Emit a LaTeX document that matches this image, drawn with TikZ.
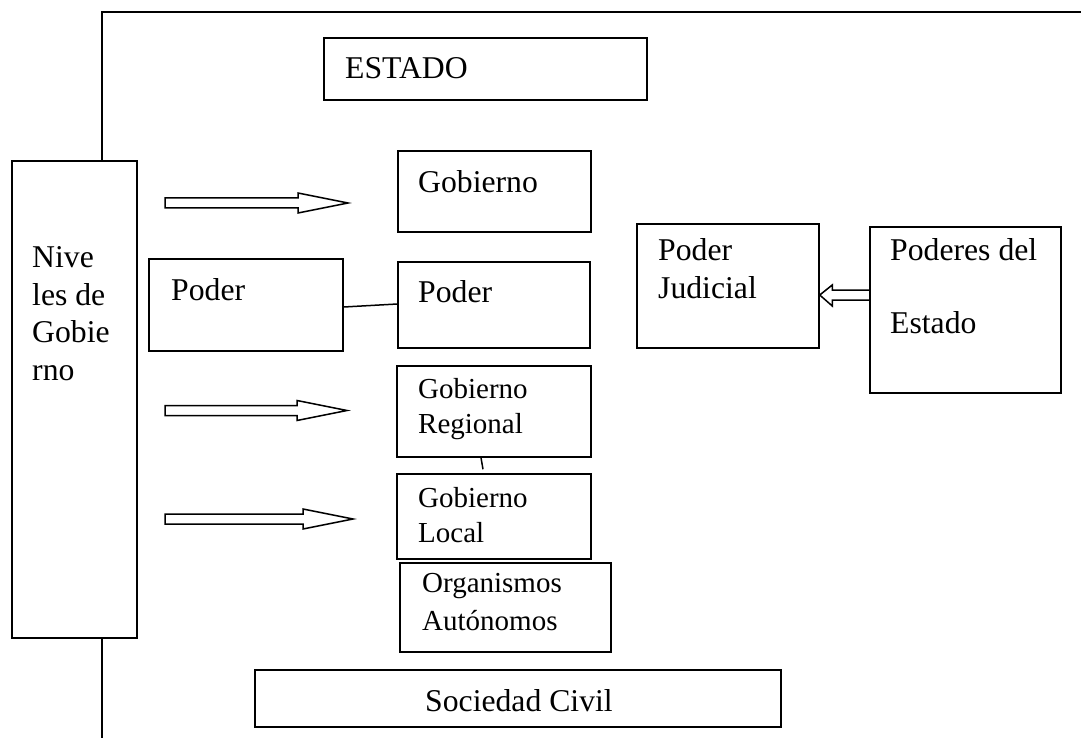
\documentclass[tikz,border=0pt]{standalone}
\usepackage{fontspec}
\setmainfont{Liberation Serif}
\tikzset{
	box/.style={draw, line width=1.5pt, inner sep=0pt},
	lbl/.style={anchor=north west, inner sep=0pt, align=left, font=\fontsize{31.7}{37.5}\selectfont, execute at begin node=\strut},
	lblsmall/.style={lbl, font=\fontsize{29}{35}\selectfont},
	pics/hollow/.style={code={\draw[line width=1.5pt] (0,-5) -- (#1,-5) -- (#1,-10) -- ({#1+50},0) -- (#1,10) -- (#1,5) -- (0,5) -- cycle;}},
	pics/hollow/.default=133
}
\begin{document}
\begin{tikzpicture}[x=1pt, y=-1pt]
	\useasboundingbox (0,0) rectangle (1081,738);
	% boxes
	\node[box, minimum width=323pt, minimum height=62pt](estado) at (485.5,69) {};
	\node[box, minimum width=125pt, minimum height=477pt](niv) at (74.5,399.5) {};
	\node[box, minimum width=193pt, minimum height=81pt](gob) at (494.5,191.5) {};
	\node[box, minimum width=194pt, minimum height=92pt](poderA) at (246,305) {};
	\node[box, minimum width=192pt, minimum height=86pt](poderB) at (494,305) {};
	\node[box, minimum width=194pt, minimum height=91pt](reg) at (494,411.5) {};
	\node[box, minimum width=194pt, minimum height=85pt](loc) at (494,516.5) {};
	\node[box, minimum width=211pt, minimum height=89pt](org) at (505.5,607.5) {};
	\node[box, minimum width=526pt, minimum height=57pt](soc) at (518,698.5) {};
	\node[box, minimum width=182pt, minimum height=124pt](pj) at (728,286) {};
	\node[box, minimum width=191pt, minimum height=166pt](pde) at (965.5,310) {};
	% texts
	\node[lbl](tEstado) at (345,51.75) {ESTADO};
	\node[lbl](tNiv) at (32,246.75) {Nive\\les de\\Gobie\\rno};
	\node[lbl](tGob) at (418,165.75) {Gobierno};
	\node[lbl](tPoderA) at (171,273.75) {Poder};
	\node[lbl](tPoderB) at (418,275.75) {Poder};
	\node[lblsmall](tReg) at (418,378.5) {Gobierno\\Regional};
	\node[lblsmall](tLoc) at (418,487.5) {Gobierno\\Local};
	\node[lblsmall, font=\fontsize{29}{38}\selectfont](tOrg) at (422,573.4) {Organismos\\Autónomos};
	\node[lbl](tSoc) at (425,684.75) {Sociedad Civil};
	\node[lbl](tPj) at (658,238.75) {Poder\\Judicial};
	\node[lbl](tPde) at (890,238.75) {Poderes del\\[35.5pt]Estado};
	% frame
	\coordinate (fTL) at (102,12);
	\coordinate (fTR) at (1081,12);
	\coordinate (fB) at (102,738);
	\draw[line width=1.5pt] (niv.north -| fTL) -- (fTL) -- (fTR);
	\draw[line width=1.5pt] (niv.south -| fB) -- (fB);
	% links
	\draw[line width=1.5pt] ([yshift=-2]poderA.east) -- ([yshift=1]poderB.west);
	\draw[line width=1.5pt] ([xshift=-13]reg.south) -- ([xshift=-11,yshift=4]loc.north);
	\draw[line width=1.5pt] ([yshift=20]pde.west) -- ([xshift=-37,yshift=20]pde.west) -- ([xshift=-37,yshift=25]pde.west) -- ([yshift=-9]pj.east) -- ([xshift=-37,yshift=4]pde.west) -- ([xshift=-37,yshift=10]pde.west) -- ([yshift=10]pde.west);
	% arrows
	\pic at (165,203) {hollow};
	\pic at (165,410.5) {hollow=132};
	\pic at (165,519) {hollow=138};
\end{tikzpicture}
\end{document}
